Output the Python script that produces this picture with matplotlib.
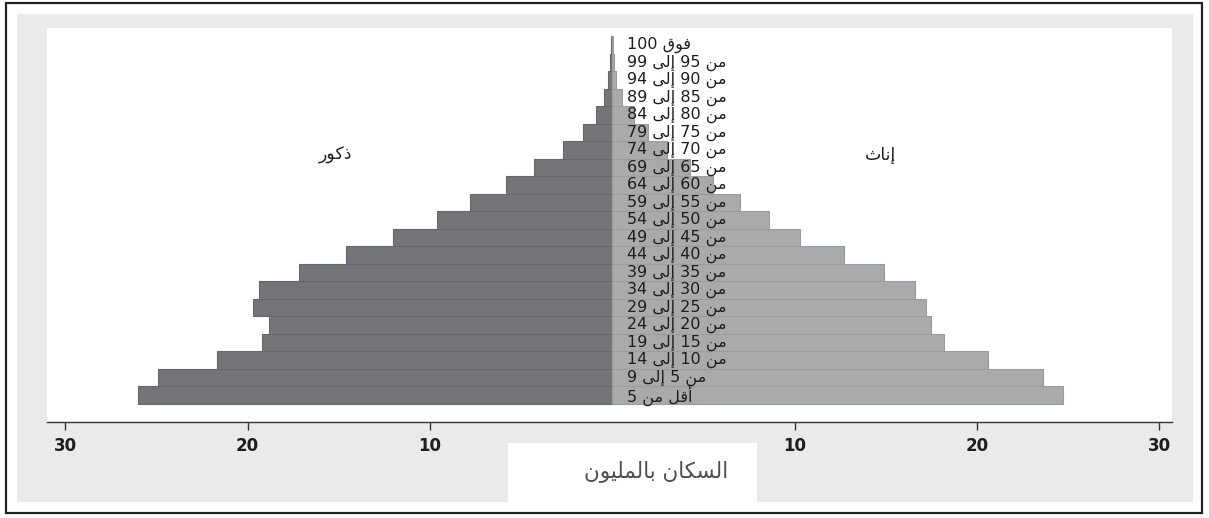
import matplotlib
matplotlib.use("Agg")
import matplotlib.pyplot as plt
from matplotlib.patches import Rectangle

# ---------------- data ----------------
age_groups = ["أقل من 5", "من 5 إلى 9", "من 10 إلى 14", "من 15 إلى 19", "من 20 إلى 24",
              "من 25 إلى 29", "من 30 إلى 34", "من 35 إلى 39", "من 40 إلى 44", "من 45 إلى 49",
              "من 50 إلى 54", "من 55 إلى 59", "من 60 إلى 64", "من 65 إلى 69", "من 70 إلى 74",
              "من 75 إلى 79", "من 80 إلى 84", "من 85 إلى 89", "من 90 إلى 94", "من 95 إلى 99",
              "فوق 100"]
males = [26.0, 24.9, 21.7, 19.2, 18.8, 19.7, 19.4, 17.2, 14.6, 12.0, 9.6, 7.8, 5.8, 4.3,
         2.7, 1.6, 0.9, 0.45, 0.25, 0.12, 0.06]
females = [24.7, 23.6, 20.6, 18.2, 17.5, 17.2, 16.6, 14.9, 12.7, 10.3, 8.6, 7.0, 5.5, 4.25,
           3.0, 1.95, 1.2, 0.55, 0.22, 0.1, 0.04]
xticks = [-30, -20, -10, 10, 20, 30]
xtick_labels = ["30", "20", "10", "10", "20", "30"]
male_label = "ذكور"
female_label = "إناث"
x_title = "السكان بالمليون"

# ------------- minimal Arabic shaping (presentation forms, visual order) -------------
FORMS = {
    'ا': ('\uFE8D', '\uFE8E', None, None),
    'أ': ('\uFE83', '\uFE84', None, None),
    'إ': ('\uFE87', '\uFE88', None, None),
    'ب': ('\uFE8F', '\uFE90', '\uFE91', '\uFE92'),
    'ث': ('\uFE99', '\uFE9A', '\uFE9B', '\uFE9C'),
    'ذ': ('\uFEAB', '\uFEAC', None, None),
    'ر': ('\uFEAD', '\uFEAE', None, None),
    'س': ('\uFEB1', '\uFEB2', '\uFEB3', '\uFEB4'),
    'ف': ('\uFED1', '\uFED2', '\uFED3', '\uFED4'),
    'ق': ('\uFED5', '\uFED6', '\uFED7', '\uFED8'),
    'ك': ('\uFED9', '\uFEDA', '\uFEDB', '\uFEDC'),
    'ل': ('\uFEDD', '\uFEDE', '\uFEDF', '\uFEE0'),
    'م': ('\uFEE1', '\uFEE2', '\uFEE3', '\uFEE4'),
    'ن': ('\uFEE5', '\uFEE6', '\uFEE7', '\uFEE8'),
    'و': ('\uFEED', '\uFEEE', None, None),
    'ى': ('\uFEEF', '\uFEF0', None, None),
    'ي': ('\uFEF1', '\uFEF2', '\uFEF3', '\uFEF4'),
}


def shape_word(word):
    out = []
    n = len(word)
    for i, c in enumerate(word):
        if c not in FORMS:
            out.append(c)
            continue
        f = FORMS[c]
        prev = word[i - 1] if i > 0 else None
        nxt = word[i + 1] if i < n - 1 else None
        jp = prev in FORMS and FORMS[prev][2] is not None
        jn = nxt in FORMS and f[2] is not None
        if jp and jn:
            out.append(f[3])
        elif jp:
            out.append(f[1])
        elif jn:
            out.append(f[2])
        else:
            out.append(f[0])
    return ''.join(out)


def ar(text):
    toks = text.split(' ')
    vis = []
    for t in reversed(toks):
        if any(ch in FORMS for ch in t):
            vis.append(shape_word(t)[::-1])
        else:
            vis.append(t)
    return ' '.join(vis)


FONT = ['DejaVu Sans']
plt.rcParams['font.family'] = FONT

W, H = 1209, 518
fig = plt.figure(figsize=(W / 100, H / 100), dpi=100)
fig.patch.set_facecolor('white')


def fx(px):
    return px / W


def fy(py):
    return 1 - py / H


# gray background region
fig.patches.append(Rectangle((fx(17), fy(502)), fx(1193) - fx(17), fy(14) - fy(502),
                             transform=fig.transFigure, facecolor='#EAEAEA', edgecolor='none', zorder=-5))
# outer black border
fig.patches.append(Rectangle((fx(6), fy(513)), fx(1202) - fx(6), fy(3) - fy(513),
                             transform=fig.transFigure, facecolor='none', edgecolor='#222222',
                             linewidth=1.6, zorder=5))
# white box behind x title
fig.patches.append(Rectangle((fx(508), fy(502)), fx(757) - fx(508), fy(443) - fy(502),
                             transform=fig.transFigure, facecolor='white', edgecolor='none', zorder=-4))

ax = fig.add_axes([fx(47), fy(422), fx(1172) - fx(47), fy(28) - fy(422)])
ax.set_zorder(2)
ax.set_facecolor('white')

ypos = list(range(len(age_groups)))
ax.barh(ypos, [-m for m in males], height=1.0, color='#747579', edgecolor='#67686b',
        linewidth=0.8, zorder=2)
ax.barh(ypos, females, height=1.0, color='#A9AAAC', edgecolor='#9b9c9e',
        linewidth=0.8, zorder=2)

for y, lab in zip(ypos, age_groups):
    ax.text(0.8, y, ar(lab), ha='left', va='center', fontsize=11.5, color='#1e1e1e',
            family=FONT, zorder=3)

ax.text(-15.2, 13.7, ar(male_label), ha='center', va='center', fontsize=12.5, color='#1e1e1e',
        family=FONT)
ax.text(14.7, 13.7, ar(female_label), ha='center', va='center', fontsize=12.5, color='#1e1e1e',
        family=FONT)

ax.set_xlim(-31.0, 30.7)
ax.set_ylim(-1.54, 20.97)
ax.set_yticks([])
ax.set_xticks(xticks)
ax.set_xticklabels(xtick_labels, fontsize=12, color='#1e1e1e', fontweight='semibold')
ax.tick_params(axis='x', length=6, width=1, color='#333333', pad=5)
for s in ['left', 'right', 'top']:
    ax.spines[s].set_visible(False)
ax.spines['bottom'].set_color('#333333')
ax.spines['bottom'].set_linewidth(1.0)

fig.text(fx(656), fy(472), ar(x_title), ha='center', va='center', fontsize=15.5,
         color='#505050', family=FONT, zorder=6)

fig.savefig('out.png', dpi=100, facecolor=fig.get_facecolor())
